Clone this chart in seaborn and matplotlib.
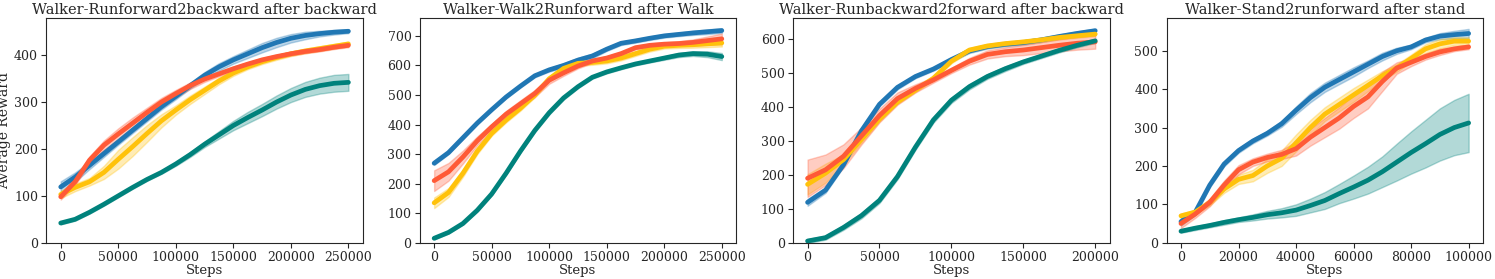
import numpy as np
import pandas as pd
import matplotlib
matplotlib.use('Agg')
import matplotlib.pyplot as plt
from matplotlib.ticker import MultipleLocator
import seaborn as sns

sns.set_style('ticks')
plt.rcParams['font.family'] = ['DejaVu Serif']

# colours for the four methods
colors = {'blue': '#2077b4', 'yellow': '#ffc20a', 'red': '#ff5a36', 'teal': '#00827c'}

# ---------------- panel 1: Walker-Runforward2backward after backward
x1 = [0, 12500, 25000, 37500, 50000, 62500, 75000, 87500, 100000, 112500, 125000,
      137500, 150000, 162500, 175000, 187500, 200000, 212500, 225000, 237500, 250000]
p1_blue = [119, 140, 165, 190, 215, 240, 265, 290, 312, 335, 357,
           375, 390, 403, 416, 427, 436, 442, 446, 449, 451]
p1_blue_w = [12, 10, 8, 7, 6, 6, 6, 6, 6, 6, 7,
             8, 8, 9, 10, 10, 9, 8, 6, 5, 4]
p1_yellow = [103, 118, 130, 150, 178, 205, 233, 260, 283, 305, 325,
             345, 362, 375, 386, 395, 403, 409, 414, 419, 424]
p1_yellow_w = [8, 8, 8, 14, 20, 20, 18, 14, 10, 9, 8,
               7, 6, 5, 5, 5, 5, 5, 5, 5, 5]
p1_red = [98, 130, 176, 208, 232, 255, 278, 300, 318, 335, 349,
          360, 371, 381, 390, 397, 403, 408, 412, 417, 421]
p1_red_w = [6, 7, 8, 10, 12, 12, 10, 9, 8, 7, 6,
            5, 5, 4, 4, 4, 4, 4, 4, 4, 4]
p1_teal = [42, 50, 65, 82, 100, 118, 135, 150, 168, 188, 210,
           230, 250, 267, 283, 300, 315, 327, 335, 340, 342]
p1_teal_w = [3, 3, 3, 3, 3, 3, 3, 3, 4, 5, 6,
             8, 10, 12, 13, 14, 15, 16, 17, 18, 18]

# ---------------- panel 2: Walker-Walk2Runforward after Walk
x2 = [0, 12500, 25000, 37500, 50000, 62500, 75000, 87500, 100000, 112500, 125000,
      137500, 150000, 162500, 175000, 187500, 200000, 212500, 225000, 237500, 250000]
p2_blue = [269, 305, 355, 405, 450, 493, 530, 565, 585, 600, 618,
           632, 655, 675, 683, 692, 700, 705, 710, 714, 718]
p2_blue_w = [6, 5, 5, 5, 5, 5, 5, 5, 6, 7, 8,
             8, 6, 6, 6, 6, 6, 6, 7, 8, 8]
p2_yellow = [135, 170, 235, 310, 370, 415, 455, 500, 555, 590, 607,
             610, 615, 625, 640, 655, 665, 668, 670, 673, 676]
p2_yellow_w = [18, 15, 12, 10, 8, 8, 8, 8, 8, 8, 8,
               8, 8, 8, 8, 8, 8, 9, 10, 11, 12]
p2_red = [210, 240, 290, 345, 392, 435, 470, 505, 550, 575, 598,
          615, 625, 640, 660, 668, 672, 674, 678, 684, 690]
p2_red_w = [35, 30, 22, 15, 10, 11, 12, 12, 12, 10, 8,
            7, 6, 6, 6, 6, 6, 8, 10, 14, 18]
p2_teal = [15, 35, 65, 110, 165, 235, 310, 380, 440, 490, 528,
           560, 578, 592, 605, 615, 625, 635, 640, 638, 630]
p2_teal_w = [4, 4, 4, 5, 5, 5, 5, 6, 6, 6, 5,
             5, 5, 5, 5, 5, 6, 7, 8, 10, 12]

# ---------------- panel 3: Walker-Runbackward2forward after backward
x3 = [0, 12500, 25000, 37500, 50000, 62500, 75000, 87500, 100000, 112500,
      125000, 137500, 150000, 162500, 175000, 187500, 200000]
p3_blue = [119, 155, 230, 330, 408, 458, 490, 512, 540, 565,
           578, 585, 590, 598, 608, 617, 625]
p3_blue_w = [10, 8, 6, 6, 6, 6, 5, 5, 6, 6,
             6, 6, 6, 6, 6, 6, 6]
p3_yellow = [172, 205, 245, 305, 365, 415, 450, 485, 535, 568,
             580, 587, 592, 598, 605, 610, 615]
p3_yellow_w = [30, 28, 15, 10, 8, 6, 6, 6, 6, 6,
               6, 6, 6, 6, 6, 6, 6]
p3_red = [190, 215, 255, 315, 375, 425, 455, 480, 508, 535,
          555, 563, 568, 575, 582, 588, 592]
p3_red_w = [55, 45, 35, 25, 20, 18, 12, 8, 8, 10,
            12, 13, 15, 16, 18, 19, 20]
p3_teal = [5, 15, 45, 80, 125, 195, 282, 362, 420, 460,
           490, 513, 533, 550, 567, 582, 595]
p3_teal_w = [6, 6, 7, 8, 8, 8, 8, 8, 8, 8,
             7, 7, 6, 6, 6, 6, 6]

# ---------------- panel 4: Walker-Stand2runforward after stand
x4 = [0, 5000, 10000, 15000, 20000, 25000, 30000, 35000, 40000, 45000, 50000,
      55000, 60000, 65000, 70000, 75000, 80000, 85000, 90000, 95000, 100000]
p4_blue = [55, 80, 150, 205, 240, 265, 285, 310, 345, 378, 405,
           425, 445, 465, 485, 500, 510, 528, 538, 542, 545]
p4_blue_w = [10, 8, 6, 6, 6, 6, 6, 8, 10, 12, 12,
             12, 12, 10, 10, 8, 6, 6, 8, 10, 12]
p4_yellow = [70, 80, 105, 140, 165, 175, 200, 220, 260, 300, 335,
             360, 385, 410, 435, 455, 480, 505, 518, 525, 525]
p4_yellow_w = [6, 6, 8, 10, 12, 15, 18, 20, 22, 20, 18,
               18, 18, 15, 12, 10, 10, 12, 12, 10, 10]
p4_red = [50, 75, 105, 150, 190, 210, 222, 230, 245, 275, 300,
          325, 355, 380, 420, 455, 470, 485, 497, 505, 510]
p4_red_w = [12, 10, 10, 12, 12, 10, 10, 12, 18, 22, 25,
            28, 30, 30, 25, 15, 10, 8, 8, 6, 6]
p4_teal = [30, 38, 45, 53, 60, 66, 73, 78, 85, 97, 110,
           128, 145, 163, 185, 210, 235, 258, 282, 300, 312]
p4_teal_w = [4, 5, 5, 6, 6, 8, 10, 12, 15, 18, 22,
             25, 30, 35, 40, 48, 55, 62, 68, 72, 76]

panels = [
    ('Walker-Runforward2backward after backward', x1,
     [('blue', p1_blue, p1_blue_w), ('yellow', p1_yellow, p1_yellow_w),
      ('red', p1_red, p1_red_w), ('teal', p1_teal, p1_teal_w)]),
    ('Walker-Walk2Runforward after Walk', x2,
     [('blue', p2_blue, p2_blue_w), ('yellow', p2_yellow, p2_yellow_w),
      ('red', p2_red, p2_red_w), ('teal', p2_teal, p2_teal_w)]),
    ('Walker-Runbackward2forward after backward', x3,
     [('blue', p3_blue, p3_blue_w), ('yellow', p3_yellow, p3_yellow_w),
      ('red', p3_red, p3_red_w), ('teal', p3_teal, p3_teal_w)]),
    ('Walker-Stand2runforward after stand', x4,
     [('blue', p4_blue, p4_blue_w), ('yellow', p4_yellow, p4_yellow_w),
      ('red', p4_red, p4_red_w), ('teal', p4_teal, p4_teal_w)]),
]
ylims = [479, 760, 662, 585]

fig, axes = plt.subplots(1, 4, figsize=(14.95, 2.79), dpi=100)

for i, (ax, (title, xs, series)) in enumerate(zip(axes, panels)):
    for name, mean, width in series:
        c = colors[name]
        mean = np.array(mean, dtype=float)
        width = np.array(width, dtype=float)
        df = pd.DataFrame({'Steps': xs, 'Reward': mean})
        ax.fill_between(xs, mean - width, mean + width, color=c, alpha=0.3,
                        linewidth=1)
        sns.lineplot(data=df, x='Steps', y='Reward', ax=ax, color=c,
                     linewidth=3.4, solid_capstyle='round')
    ax.set_title(title, fontsize=10.5, pad=3)
    ax.set_xlabel('Steps', fontsize=9.5, labelpad=0)
    ax.set_ylabel('Average Reward' if i == 0 else '', fontsize=10)
    ax.set_ylim(0, ylims[i])
    ax.yaxis.set_major_locator(MultipleLocator(100))
    ax.tick_params(labelsize=9, length=3.5, pad=2.5)

axes[0].yaxis.set_label_coords(-0.11, 0.5)

plt.subplots_adjust(left=0.031, right=0.992, top=0.935, bottom=0.13, wspace=0.18)
plt.savefig('out.png')
